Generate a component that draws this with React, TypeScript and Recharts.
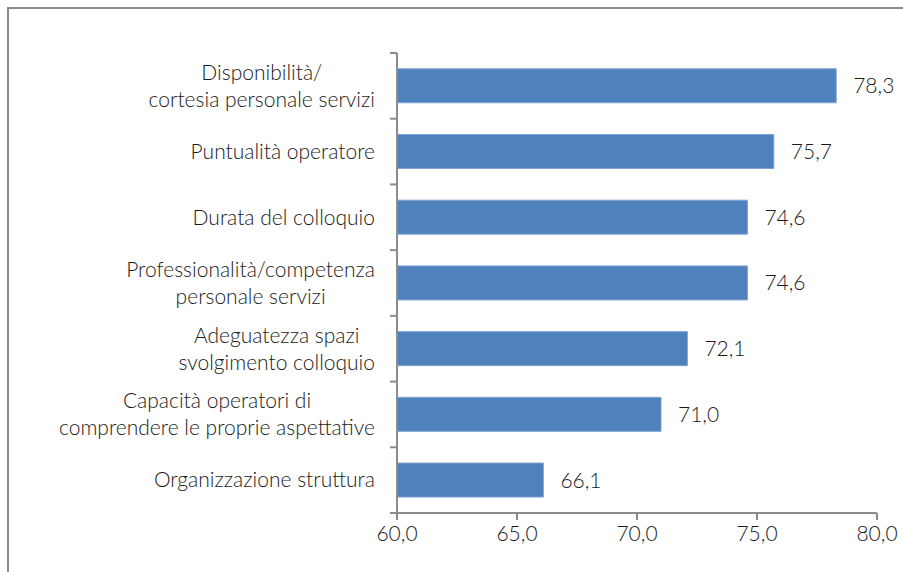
import { Bar, BarChart, LabelList, XAxis, YAxis } from "recharts";

const categories = [
  "Disponibilità/\ncortesia personale servizi",
  "Puntualità operatore",
  "Durata del colloquio",
  "Professionalità/competenza\npersonale servizi",
  "Adeguatezza spazi\nsvolgimento colloquio",
  "Capacità operatori di\ncomprendere le proprie aspettative",
  "Organizzazione struttura",
];
const values = [78.3, 75.7, 74.6, 74.6, 72.1, 71.0, 66.1];
const xTicks = [60, 65, 70, 75, 80];

const data = categories.map((name, i) => ({ name, value: values[i] }));

const FONT = "Lato, sans-serif";
const FS = 21;
const FW = 300;
const AXIS_X = 397;
const TOP = 53;
const BOTTOM = 513;
const STEP = (BOTTOM - TOP) / categories.length;
const AXIS_COLOR = "#8c8c8c";

let ctx: CanvasRenderingContext2D | null = null;
function measure(s: string) {
  if (!ctx) ctx = document.createElement("canvas").getContext("2d");
  if (!ctx) return s.length * 9;
  ctx.font = `${FW} ${FS}px Lato`;
  return ctx.measureText(s).width;
}

const fmt = (v: number) => v.toFixed(1).replace(".", ",");

function CategoryTick(props: any) {
  const { y, payload, index } = props;
  const lines: string[] = String(payload.value).split("\n");
  const right = AXIS_X - 22;
  const w = Math.max(...lines.map(measure));
  const cx = right - w / 2;
  const lh = 27;
  const y0 = y - ((lines.length - 1) * lh) / 2;
  const last = index === categories.length - 1;
  return (
    <g>
      <line x1={AXIS_X - 7} x2={AXIS_X} y1={y - STEP / 2} y2={y - STEP / 2} stroke={AXIS_COLOR} strokeWidth={2} />
      {last && (
        <line x1={AXIS_X - 7} x2={AXIS_X} y1={y + STEP / 2} y2={y + STEP / 2} stroke={AXIS_COLOR} strokeWidth={2} />
      )}
      <text fontFamily={FONT} fontWeight={FW} fontSize={FS} fill="#1a1a1a" textAnchor="middle">
        {lines.map((l, i) => (
          <tspan key={i} x={cx} y={y0 + i * lh} dy="0.35em">
            {l}
          </tspan>
        ))}
      </text>
    </g>
  );
}

export default function App() {
  return (
    <div style={{ position: "absolute", left: 0, top: 0, width: 903, height: 572, background: "#fff", overflow: "hidden" }}>
      <div
        style={{
          position: "absolute",
          left: 7,
          top: 7,
          width: 920,
          height: 600,
          border: "2px solid #8c8c8c",
          boxSizing: "border-box",
        }}
      />
      <div style={{ position: "absolute", left: 0, top: 0 }}>
        <BarChart
          width={903}
          height={572}
          data={data}
          layout="vertical"
          margin={{ top: TOP, right: 26, bottom: 572 - BOTTOM - 30, left: 0 }}
          barCategoryGap="24%"
        >
          <XAxis
            type="number"
            domain={[60, 80]}
            ticks={xTicks}
            allowDataOverflow
            tickFormatter={fmt}
            stroke={AXIS_COLOR}
            strokeWidth={2}
            tickSize={7}
            height={30}
            tick={{ fill: "#1a1a1a", fontSize: FS, fontFamily: FONT, fontWeight: FW, dy: 4 }}
            interval={0}
          />
          <YAxis
            type="category"
            dataKey="name"
            width={AXIS_X}
            stroke={AXIS_COLOR}
            strokeWidth={2}
            tickLine={false}
            tick={<CategoryTick />}
            interval={0}
            scale="band"
          />
          <Bar dataKey="value" fill="#4f81bd" stroke="#7fa3d3" strokeWidth={1} isAnimationActive={false}>
            <LabelList
              dataKey="value"
              position="right"
              offset={17}
              formatter={(v: any) => fmt(Number(v))}
              style={{ fill: "#1a1a1a", fontSize: FS, fontFamily: FONT, fontWeight: FW }}
            />
          </Bar>
        </BarChart>
      </div>
    </div>
  );
}
